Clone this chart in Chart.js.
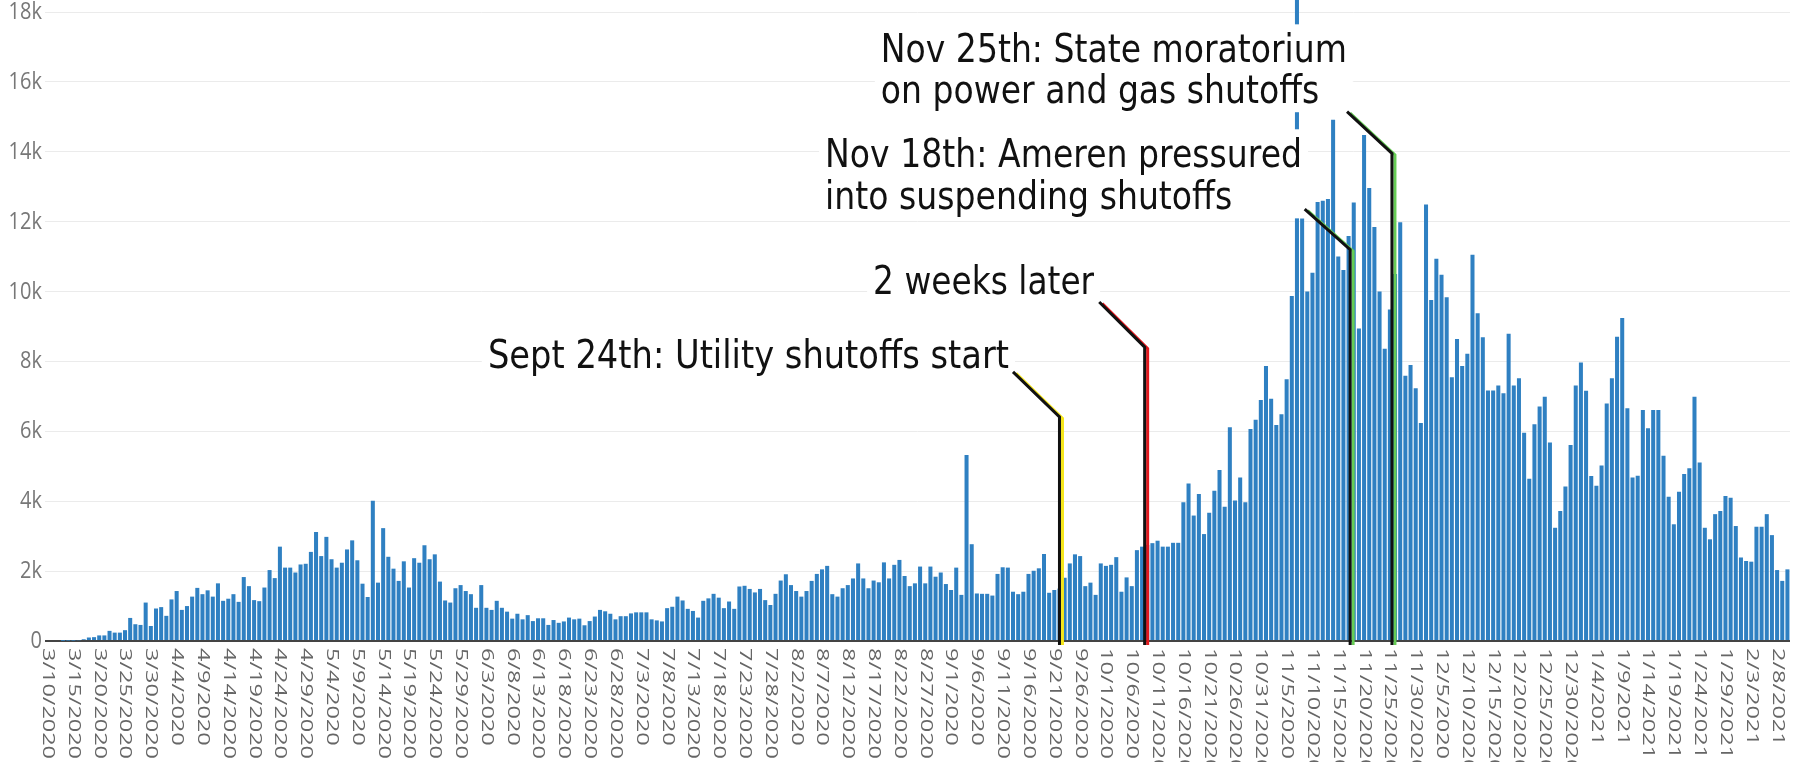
<!DOCTYPE html>
<html><head><meta charset="utf-8">
<script src="https://cdn.jsdelivr.net/npm/chart.js@4/dist/chart.umd.min.js"></script>
<style>html,body{margin:0;padding:0;background:#fff;overflow:hidden}#wrap{width:1802px;height:762px}</style>
</head><body><div id="wrap"><canvas id="c" width="1802" height="762"></canvas></div>
<script>
// ---- data ----
const firstDay = [2020, 3, 10];   // year, month, day of the first bar
const dayCount = 338;
const categories = [];
for (let k = 0; k < dayCount; k++) {
  const d = new Date(Date.UTC(firstDay[0], firstDay[1] - 1, firstDay[2] + k));
  categories.push((d.getUTCMonth() + 1) + '/' + d.getUTCDate() + '/' + d.getUTCFullYear());
}
const tickLabels = ["3/10/2020","3/15/2020","3/20/2020","3/25/2020","3/30/2020","4/4/2020","4/9/2020","4/14/2020","4/19/2020","4/24/2020","4/29/2020","5/4/2020","5/9/2020","5/14/2020","5/19/2020","5/24/2020","5/29/2020","6/3/2020","6/8/2020","6/13/2020","6/18/2020","6/23/2020","6/28/2020","7/3/2020","7/8/2020","7/13/2020","7/18/2020","7/23/2020","7/28/2020","8/2/2020","8/7/2020","8/12/2020","8/17/2020","8/22/2020","8/27/2020","9/1/2020","9/6/2020","9/11/2020","9/16/2020","9/21/2020","9/26/2020","10/1/2020","10/6/2020","10/11/2020","10/16/2020","10/21/2020","10/26/2020","10/31/2020","11/5/2020","11/10/2020","11/15/2020","11/20/2020","11/25/2020","11/30/2020","12/5/2020","12/10/2020","12/15/2020","12/20/2020","12/25/2020","12/30/2020","1/4/2021","1/9/2021","1/14/2021","1/19/2021","1/24/2021","1/29/2021","2/3/2021","2/8/2021"];
const shutoffs = [
  0, 0, 0, 5, 10, 10, 20, 50, 100, 110,
  160, 160, 290, 240, 240, 310, 660, 480, 460, 1100,
  430, 930, 970, 720, 1190, 1430, 890, 1000, 1270, 1520,
  1340, 1450, 1270, 1650, 1150, 1210, 1340, 1120, 1830, 1570,
  1170, 1140, 1530, 2030, 1800, 2700, 2100, 2100, 1960, 2190,
  2210, 2550, 3120, 2430, 2980, 2340, 2100, 2240, 2620, 2880,
  2310, 1640, 1260, 4010, 1670, 3230, 2410, 2070, 1720, 2280,
  1530, 2370, 2240, 2740, 2340, 2480, 1700, 1160, 1100, 1510,
  1600, 1430, 1340, 950, 1600, 950, 890, 1150, 950, 840,
  640, 780, 620, 740, 570, 650, 650, 460, 600, 520,
  560, 670, 620, 640, 450, 570, 700, 890, 850, 780,
  620, 710, 710, 790, 820, 820, 820, 620, 590, 560,
  940, 980, 1270, 1160, 920, 860, 670, 1150, 1220, 1350,
  1240, 940, 1130, 920, 1560, 1580, 1490, 1390, 1490, 1170,
  1030, 1350, 1730, 1910, 1600, 1430, 1270, 1430, 1720, 1920,
  2050, 2150, 1340, 1270, 1510, 1600, 1790, 2220, 1790, 1510,
  1730, 1680, 2250, 1790, 2180, 2320, 1860, 1570, 1650, 2130,
  1650, 2130, 1840, 1960, 1630, 1460, 2100, 1320, 5320, 2770,
  1360, 1350, 1350, 1300, 1920, 2110, 2100, 1410, 1340, 1410,
  1920, 2010, 2080, 2490, 1380, 1460, 1500, 1810, 2220, 2480,
  2430, 1570, 1670, 1320, 2220, 2150, 2180, 2400, 1410, 1820,
  1570, 2600, 2700, 2750, 2800, 2870, 2700, 2700, 2810, 2810,
  3970, 4510, 3590, 4210, 3060, 3670, 4300, 4890, 3840, 6120,
  4020, 4680, 3970, 6070, 6330, 6900, 7870, 6930, 6180, 6490,
  7490, 9870, 19500, 12100, 10000, 10540, 12560, 12600, 12650, 14920,
  11000, 10620, 11590, 12550, 8940, 14480, 12960, 11850, 10000, 8360,
  9490, 10500, 11980, 7590, 7900, 7230, 6240, 12490, 9760, 10940,
  10480, 9840, 7550, 8640, 7870, 8220, 11050, 9380, 8690, 7170,
  7170, 7310, 7090, 8790, 7310, 7520, 5960, 4640, 6200, 6710,
  6990, 5680, 3240, 3720, 4420, 5610, 7310, 7970, 7160, 4720,
  4440, 5020, 6800, 7520, 8710, 9240, 6660, 4680, 4730, 6610,
  6090, 6610, 6610, 5300, 4130, 3340, 4270, 4780, 4940, 6990,
  5110, 3240, 2910, 3630, 3720, 4150, 4100, 3290, 2390, 2290,
  2270, 3270, 3270, 3630, 3030, 2030, 1720, 2050
];
const yTickValues = [0, 2000, 4000, 6000, 8000, 10000, 12000, 14000, 16000, 18000];
const yTickLabels = ['0', '2k', '4k', '6k', '8k', '10k', '12k', '14k', '16k', '18k'];

// annotation texts (anchored in category index / value units); width = width of the first line
const noteTexts = [
  { lines: ['Nov 25th: State moratorium', 'on power and gas shutoffs'], at: 161.4, base: [16570, 15400], width: 466 },
  { lines: ['Nov 18th: Ameren pressured', 'into suspending shutoffs'], at: 150.6, base: [13565, 12363], width: 477 },
  { lines: ['2 weeks later'], at: 159.9, base: [9930], width: 221 },
  { lines: ['Sept 24th: Utility shutoffs start'], at: 85.3, base: [7813], width: 521 }
];
// marker lines: vertical at index `at` up to `top`, then diagonal to (`endAt`, `endTop`)
const markerLines = [
  { at: 196.0, top: 6410, endAt: 187.0, endTop: 7700, color: '#f5e61a' },
  { at: 212.5, top: 8410, endAt: 203.7, endTop: 9700, color: '#e3171c' },
  { at: 252.3, top: 11200, endAt: 243.5, endTop: 12360, color: '#66cc55' },
  { at: 260.4, top: 13950, endAt: 251.7, endTop: 15150, color: '#66cc55' }
];

const notesPlugin = {
  id: 'notes',
  afterDatasetsDraw(chart) {
    const { ctx, scales: { x, y }, chartArea } = chart;
    const p0 = x.getPixelForValue(0), p1 = x.getPixelForValue(1);
    const px = i => p0 + (p1 - p0) * i;
    const py = v => y.getPixelForValue(v);

    // y tick labels (slightly tall glyphs, as in the source picture)
    ctx.save();
    ctx.fillStyle = '#777777';
    ctx.font = '20px "Open Sans"';
    ctx.textAlign = 'right';
    ctx.textBaseline = 'middle';
    yTickValues.forEach((v, k) => {
      ctx.save();
      ctx.translate(chartArea.left - 3, py(v));
      ctx.scale(1, 1.22);
      ctx.fillText(yTickLabels[k], 0, 0);
      ctx.restore();
    });
    ctx.restore();

    // rotated date tick labels (reading downward)
    ctx.save();
    ctx.fillStyle = '#666666';
    ctx.font = '16px "Open Sans"';
    const stretch = 111 / ctx.measureText('3/10/2020').width;
    ctx.textAlign = 'left';
    ctx.textBaseline = 'middle';
    tickLabels.forEach(lbl => {
      const idx = categories.indexOf(lbl);
      if (idx < 0) return;
      ctx.save();
      ctx.translate(x.getPixelForValue(idx), chartArea.bottom + 7);
      ctx.rotate(Math.PI / 2);
      ctx.scale(stretch, 1);
      ctx.fillText(lbl, 0, 0);
      ctx.restore();
    });
    ctx.restore();

    // text boxes
    const fs = 33, vs = 1.18;
    ctx.save();
    ctx.font = fs + 'px "DejaVu Sans"';
    ctx.textAlign = 'left';
    ctx.textBaseline = 'alphabetic';
    noteTexts.forEach(n => {
      const left = px(n.at);
      const sx = n.width / ctx.measureText(n.lines[0]).width;
      const maxW = Math.max(...n.lines.map(t => ctx.measureText(t).width * sx));
      const top = py(n.base[0]) - 0.76 * fs * sx * vs - 8;
      const bottom = py(n.base[n.base.length - 1]) + 0.24 * fs * sx * vs;
      ctx.fillStyle = '#ffffff';
      ctx.fillRect(left - 6, top, maxW + 12, bottom - top);
      ctx.fillStyle = '#111111';
      n.lines.forEach((t, k) => {
        ctx.save();
        ctx.translate(left, py(n.base[k]));
        ctx.scale(sx, sx * vs);
        ctx.fillText(t, 0, 0);
        ctx.restore();
      });
    });
    ctx.restore();

    // marker lines
    ctx.save();
    ctx.lineJoin = 'miter';
    ctx.lineCap = 'butt';
    markerLines.forEach(m => {
      const xb = px(m.at), yb = py(0) + 4, yt = py(m.top), xe = px(m.endAt), ye = py(m.endTop);
      ctx.lineWidth = 3;
      ctx.strokeStyle = m.color;
      ctx.beginPath();
      ctx.moveTo(xb + 3, yb); ctx.lineTo(xb + 3, yt + 1.5); ctx.lineTo(xe + 3, ye + 1.5);
      ctx.stroke();
      ctx.strokeStyle = '#111111';
      ctx.beginPath();
      ctx.moveTo(xb, yb); ctx.lineTo(xb, yt); ctx.lineTo(xe, ye);
      ctx.stroke();
    });
    ctx.restore();
  }
};

new Chart(document.getElementById('c'), {
  type: 'bar',
  data: {
    labels: categories,
    datasets: [{
      data: shutoffs,
      backgroundColor: '#2f80c2',
      borderWidth: 0,
      barPercentage: 0.78,
      categoryPercentage: 1,
      clip: false
    }]
  },
  options: {
    responsive: false,
    animation: false,
    devicePixelRatio: 1,
    layout: { padding: { top: 12, right: 12, left: 0, bottom: 0 } },
    plugins: { legend: { display: false }, tooltip: { enabled: false } },
    scales: {
      x: {
        grid: { display: false },
        border: { display: false },
        ticks: { display: false },
        afterFit: s => { s.height = 121; }
      },
      y: {
        min: 0, max: 18000,
        afterBuildTicks: s => { s.ticks = yTickValues.map(v => ({ value: v })); },
        ticks: { display: false },
        grid: {
          color: c => (c.tick && c.tick.value === 0) ? '#444444' : '#ebebeb',
          lineWidth: c => (c.tick && c.tick.value === 0) ? 2 : 1,
          drawTicks: false
        },
        border: { display: false },
        afterFit: s => { s.width = 45; }
      }
    }
  },
  plugins: [notesPlugin]
});
</script>
</body></html>
